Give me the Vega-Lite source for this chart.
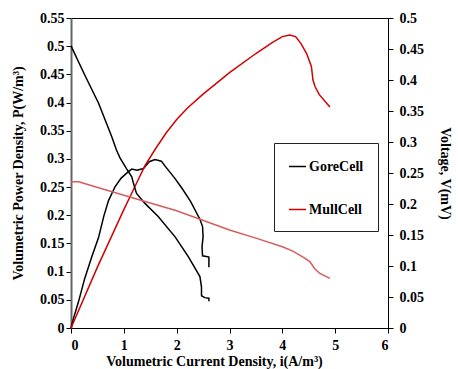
{
  "$schema": "https://vega.github.io/schema/vega-lite/v6.json",
  "width": 317,
  "height": 310,
  "autosize": {"type": "none"},
  "padding": {"left": 71, "top": 18, "right": 70, "bottom": 41},
  "background": "white",
  "config": {
    "font": "Liberation Serif",
    "view": {"stroke": "black", "strokeWidth": 1},
    "axis": {
      "grid": false,
      "labelFont": "Liberation Serif",
      "labelFontWeight": 700,
      "labelFontSize": 14,
      "labelColor": "black",
      "titleFont": "Liberation Serif",
      "titleFontWeight": 700,
      "titleFontSize": 14,
      "titleColor": "black",
      "tickColor": "black",
      "domainColor": "black",
      "tickSize": 5
    },
    "legend": {
      "labelFont": "Liberation Serif",
      "labelFontWeight": 700,
      "labelFontSize": 14,
      "labelColor": "black"
    }
  },
  "datasets": {
    "power": [
      {"series": "GoreCell", "i": 0, "p": 0},
      {"series": "GoreCell", "i": 0.05, "p": 0.018},
      {"series": "GoreCell", "i": 0.14, "p": 0.046},
      {"series": "GoreCell", "i": 0.26, "p": 0.088},
      {"series": "GoreCell", "i": 0.4, "p": 0.128},
      {"series": "GoreCell", "i": 0.52, "p": 0.16},
      {"series": "GoreCell", "i": 0.62, "p": 0.198},
      {"series": "GoreCell", "i": 0.71, "p": 0.226},
      {"series": "GoreCell", "i": 0.83, "p": 0.25},
      {"series": "GoreCell", "i": 0.95, "p": 0.266},
      {"series": "GoreCell", "i": 1.08, "p": 0.277},
      {"series": "GoreCell", "i": 1.15, "p": 0.282},
      {"series": "GoreCell", "i": 1.25, "p": 0.28},
      {"series": "GoreCell", "i": 1.37, "p": 0.283},
      {"series": "GoreCell", "i": 1.48, "p": 0.295},
      {"series": "GoreCell", "i": 1.59, "p": 0.299},
      {"series": "GoreCell", "i": 1.71, "p": 0.296},
      {"series": "GoreCell", "i": 1.8, "p": 0.285},
      {"series": "GoreCell", "i": 1.97, "p": 0.265},
      {"series": "GoreCell", "i": 2.1, "p": 0.248},
      {"series": "GoreCell", "i": 2.26, "p": 0.225},
      {"series": "GoreCell", "i": 2.44, "p": 0.193},
      {"series": "GoreCell", "i": 2.49, "p": 0.18},
      {"series": "GoreCell", "i": 2.5, "p": 0.162},
      {"series": "GoreCell", "i": 2.48, "p": 0.144},
      {"series": "GoreCell", "i": 2.49, "p": 0.128},
      {"series": "GoreCell", "i": 2.56, "p": 0.127},
      {"series": "GoreCell", "i": 2.61, "p": 0.126},
      {"series": "GoreCell", "i": 2.61, "p": 0.108},
      {"series": "MullCell", "i": 0, "p": 0},
      {"series": "MullCell", "i": 0.5, "p": 0.108},
      {"series": "MullCell", "i": 1.0, "p": 0.21},
      {"series": "MullCell", "i": 1.21, "p": 0.251},
      {"series": "MullCell", "i": 1.4, "p": 0.288},
      {"series": "MullCell", "i": 1.6, "p": 0.318},
      {"series": "MullCell", "i": 1.8, "p": 0.346},
      {"series": "MullCell", "i": 2.0, "p": 0.37},
      {"series": "MullCell", "i": 2.2, "p": 0.39},
      {"series": "MullCell", "i": 2.5, "p": 0.415},
      {"series": "MullCell", "i": 3.0, "p": 0.453},
      {"series": "MullCell", "i": 3.5, "p": 0.487},
      {"series": "MullCell", "i": 3.8, "p": 0.506},
      {"series": "MullCell", "i": 4.0, "p": 0.517},
      {"series": "MullCell", "i": 4.14, "p": 0.52},
      {"series": "MullCell", "i": 4.25, "p": 0.517},
      {"series": "MullCell", "i": 4.35, "p": 0.505},
      {"series": "MullCell", "i": 4.46, "p": 0.487},
      {"series": "MullCell", "i": 4.55, "p": 0.464},
      {"series": "MullCell", "i": 4.58, "p": 0.44},
      {"series": "MullCell", "i": 4.62, "p": 0.428},
      {"series": "MullCell", "i": 4.7, "p": 0.414},
      {"series": "MullCell", "i": 4.9, "p": 0.392}
    ],
    "voltage": [
      {"series": "GoreCell", "i": 0, "v": 0.455},
      {"series": "GoreCell", "i": 0.26, "v": 0.408},
      {"series": "GoreCell", "i": 0.52, "v": 0.363},
      {"series": "GoreCell", "i": 0.77, "v": 0.309},
      {"series": "GoreCell", "i": 0.86, "v": 0.287},
      {"series": "GoreCell", "i": 0.93, "v": 0.274},
      {"series": "GoreCell", "i": 1.05, "v": 0.257},
      {"series": "GoreCell", "i": 1.15, "v": 0.244},
      {"series": "GoreCell", "i": 1.18, "v": 0.234},
      {"series": "GoreCell", "i": 1.24, "v": 0.217},
      {"series": "GoreCell", "i": 1.4, "v": 0.201},
      {"series": "GoreCell", "i": 1.65, "v": 0.18},
      {"series": "GoreCell", "i": 1.97, "v": 0.147},
      {"series": "GoreCell", "i": 2.22, "v": 0.115},
      {"series": "GoreCell", "i": 2.44, "v": 0.083},
      {"series": "GoreCell", "i": 2.47, "v": 0.066},
      {"series": "GoreCell", "i": 2.47, "v": 0.052},
      {"series": "GoreCell", "i": 2.53, "v": 0.049},
      {"series": "GoreCell", "i": 2.61, "v": 0.048},
      {"series": "GoreCell", "i": 2.61, "v": 0.043},
      {"series": "MullCell", "i": 0, "v": 0.236},
      {"series": "MullCell", "i": 0.15, "v": 0.236},
      {"series": "MullCell", "i": 0.3, "v": 0.232},
      {"series": "MullCell", "i": 1.0, "v": 0.214},
      {"series": "MullCell", "i": 2.0, "v": 0.189},
      {"series": "MullCell", "i": 3.0, "v": 0.158},
      {"series": "MullCell", "i": 3.5, "v": 0.145},
      {"series": "MullCell", "i": 4.0, "v": 0.131},
      {"series": "MullCell", "i": 4.2, "v": 0.124},
      {"series": "MullCell", "i": 4.4, "v": 0.114},
      {"series": "MullCell", "i": 4.52, "v": 0.107},
      {"series": "MullCell", "i": 4.61, "v": 0.096},
      {"series": "MullCell", "i": 4.71, "v": 0.088},
      {"series": "MullCell", "i": 4.9, "v": 0.08}
    ]
  },
  "layer": [
    {
      "data": {"name": "power"},
      "mark": {"type": "line", "strokeWidth": 1.5},
      "encoding": {
        "x": {
          "field": "i", "type": "quantitative",
          "scale": {"domain": [0, 6], "nice": false},
          "axis": {"title": "Volumetric Current Density, i(A/m³)", "values": [0, 1, 2, 3, 4, 5, 6], "format": "d", "labelPadding": 5, "titleX": 143, "titleY": 37, "titleBaseline": "alphabetic", "titleAlign": "center"}
        },
        "y": {
          "field": "p", "type": "quantitative",
          "scale": {"domain": [0, 0.55], "nice": false},
          "axis": {"orient": "left", "title": "Volumetric Power Density, P(W/m³)", "values": [0, 0.05, 0.1, 0.15, 0.2, 0.25, 0.3, 0.35, 0.4, 0.45, 0.5, 0.55], "format": ".2~f", "domainColor": "#666666", "domainWidth": 2, "titlePadding": 14}
        },
        "color": {
          "field": "series", "type": "nominal",
          "scale": {"domain": ["GoreCell", "MullCell"], "range": ["#000000", "#d40000"]},
          "legend": {"title": null, "orient": "none", "legendX": 203, "legendY": 125, "symbolType": "stroke", "symbolSize": 289, "symbolStrokeWidth": 1.5, "strokeColor": "#222222", "fillColor": "white", "padding": 14, "rowPadding": 26, "labelOffset": 2, "labelFont": "Liberation Serif", "labelFontWeight": 700}
        },
        "order": {"value": null}
      }
    },
    {
      "data": {"name": "voltage"},
      "mark": {"type": "line", "strokeWidth": 1.5},
      "encoding": {
        "x": {"field": "i", "type": "quantitative", "scale": {"domain": [0, 6], "nice": false}},
        "y": {
          "field": "v", "type": "quantitative",
          "scale": {"domain": [0, 0.5], "nice": false},
          "axis": {"orient": "right", "title": "Voltage, V(mV)", "values": [0, 0.05, 0.1, 0.15, 0.2, 0.25, 0.3, 0.35, 0.4, 0.45, 0.5], "format": ".2~f", "titlePadding": 14, "labelPadding": 6}
        },
        "color": {
          "field": "series", "type": "nominal",
          "scale": {"domain": ["GoreCell", "MullCell"], "range": ["#000000", "#d65c5c"]},
          "legend": null
        },
        "order": {"value": null}
      }
    }
  ],
  "resolve": {"scale": {"y": "independent", "color": "independent"}}
}
